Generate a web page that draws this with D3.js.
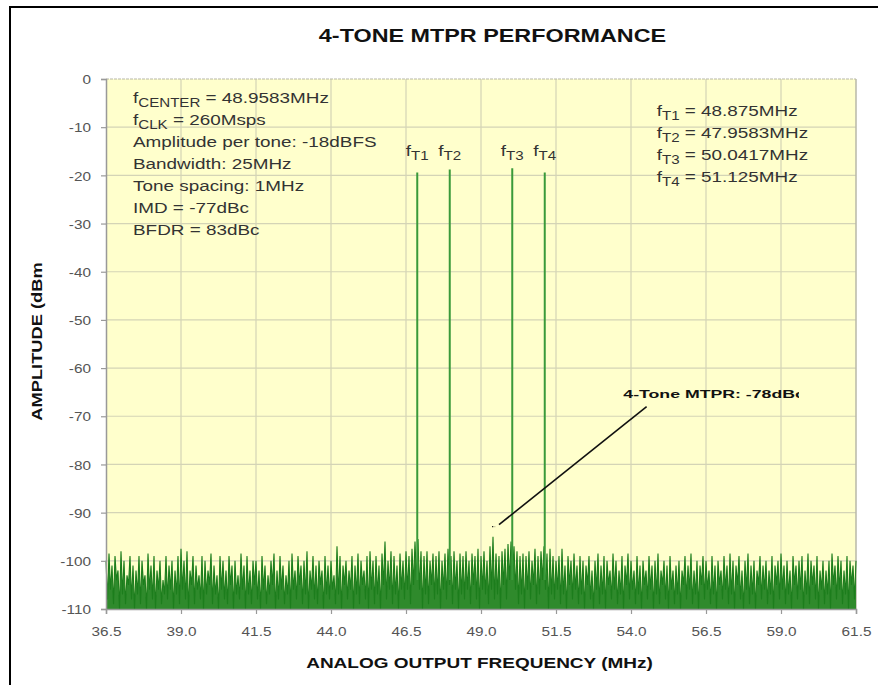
<!DOCTYPE html>
<html><head><meta charset="utf-8">
<script src="https://cdn.jsdelivr.net/npm/d3@7"></script>
<style>html,body{margin:0;padding:0;background:#fff;} svg{display:block;font-family:"Liberation Sans",Arial,Helvetica,sans-serif;}</style>
</head><body><svg id="c" width="878" height="685"></svg>
<script>
// ---------------- data ----------------
const xTicks = [36.5, 39.0, 41.5, 44.0, 46.5, 49.0, 51.5, 54.0, 56.5, 59.0, 61.5];
const yTicks = [0, -10, -20, -30, -40, -50, -60, -70, -80, -90, -100, -110];
const toneNames = ["T1", "T2", "T3", "T4"];
const toneFreqs = [46.875, 47.9583, 50.0417, 51.125];
const tonePeaks = [-19.4, -18.8, -18.5, -19.4];
const toneListValues = ["48.875MHz", "47.9583MHz", "50.0417MHz", "51.125MHz"];
const infoLines = [
  ["f", "CENTER", " = 48.9583MHz"],
  ["f", "CLK", " = 260Msps"],
  ["Amplitude per tone: -18dBFS", "", ""],
  ["Bandwidth: 25MHz", "", ""],
  ["Tone spacing: 1MHz", "", ""],
  ["IMD = -77dBc", "", ""],
  ["BFDR = 83dBc", "", ""]
];
const mtprLabel = "4-Tone MTPR: -78dBc";
const mtprArrow = [[54.52, -68.0], [49.6, -92.5]];
const mtprDots = [[49.37, -92.9], [49.47, -92.9]];
const noiseStart = 36.5, noiseStep = 0.05;
const noise = [
-100,-108,-98.5,-106,-101,-109,-99,-104,-102,-110,-98,-107,-100,-109,-103,-105,-99,-108,-101,-110,
-102,-107,-99,-109,-100,-105,-103,-110,-98.5,-106,-101,-108,-99,-110,-102,-106,-100,-109,-104,-107,
-99,-108,-101,-106,-100,-110,-102,-107,-99,-109,-97.5,-106,-100,-108,-98,-110,-102,-105,-99,-109,
-101,-106,-103,-108,-99,-110,-100,-107,-102,-105,-98.5,-109,-101,-107,-103,-110,-99,-106,-100,-108,
-102,-109,-99,-105,-101,-110,-100,-107,-103,-108,-98.5,-106,-101,-110,-99,-107,-102,-109,-100,-105,
-100,-108,-102,-110,-99,-106,-101,-109,-103,-107,-100,-105,-98.5,-110,-102,-108,-99,-106,-101,-109,
-103,-107,-100,-110,-98.5,-106,-102,-108,-99,-105,-101,-109,-100,-107,-98,-110,-102,-106,-99,-108,
-101,-109,-100,-105,-102,-110,-99,-107,-101,-108,-100,-106,-103,-109,-97,-107,-99,-110,-101,-105,
-100,-108,-102,-106,-99,-110,-101,-107,-98.5,-109,-100,-105,-102,-108,-99,-110,-98,-106,-100,-109,
-99,-107,-101,-110,-98.5,-105,-96,-108,-100,-106,-98,-109,-99,-107,-101,-110,-98.5,-106,-100,-108,
-98,-106,-99,-109,-97.5,-105,-96,-104,-95.5,-106,-98,-110,-99,-107,-98,-109,-100,-105,-98.5,-108,
-99,-107,-98,-110,-100,-106,-98.5,-108,-97.5,-105,-99,-109,-98,-106,-100,-110,-98.5,-107,-99,-108,
-98,-106,-100,-109,-98.5,-105,-99,-108,-97.5,-110,-99,-106,-98,-107,-100,-109,-97,-106,-95,-108,
-98.5,-107,-99,-110,-98,-105,-97.5,-108,-96.5,-104,-96,-103,-97,-106,-98,-109,-99,-107,-98.5,-110,
-99,-106,-98,-108,-100,-105,-97.5,-109,-99,-107,-98,-104,-97,-106,-98.5,-110,-97.5,-107,-99,-108,
-100,-106,-99,-109,-97.5,-107,-101,-110,-99,-105,-100,-108,-98.5,-106,-101,-109,-99,-107,-100,-110,
-101,-105,-99,-108,-102,-110,-100,-106,-98.5,-109,-101,-107,-99,-110,-100,-105,-102,-108,-98.5,-106,
-100,-109,-102,-107,-99,-110,-101,-105,-98.5,-108,-100,-106,-102,-109,-99,-107,-101,-110,-100,-105,
-102,-108,-99,-106,-101,-110,-100,-107,-98.5,-109,-102,-105,-100,-108,-101,-110,-99,-106,-102,-109,
-101,-107,-100,-110,-102,-105,-99,-108,-101,-106,-98.5,-109,-102,-107,-100,-110,-101,-105,-99,-108,
-100,-106,-102,-109,-99,-107,-101,-110,-100,-105,-102,-108,-99,-106,-101,-109,-98.5,-107,-100,-110,
-101,-105,-99,-108,-102,-110,-100,-106,-98.5,-109,-101,-107,-100,-110,-102,-105,-99,-108,-101,-106,
-100,-109,-102,-107,-99,-110,-101,-105,-100,-108,-98.5,-106,-101,-109,-100,-107,-102,-110,-99,-105,
-101,-108,-100,-106,-99,-110,-102,-107,-98.5,-109,-100,-105,-101,-108,-99,-110,-102,-106,-100,-109,
-102,-107,-100,-110,-98.5,-105,-101,-108,-99,-106,-100,-109,-102,-107,-99,-110,-100,-105,-101,-108,
-100
];

// ---------------- layout ----------------
const svg = d3.select("#c");
const x = d3.scaleLinear().domain([36.5, 61.5]).range([106, 856]);
const y = d3.scaleLinear().domain([-110, 0]).range([609, 79]);

function label(parent, tx, ty, opts) {
  const g = parent.append("g")
    .attr("transform", `translate(${tx},${ty})` + (opts.rotate ? ` rotate(${opts.rotate})` : "") + ` scale(${opts.k || 1},1)`);
  return g.append("text")
    .attr("x", 0).attr("y", 0)
    .attr("font-size", opts.size)
    .attr("font-weight", opts.weight || "normal")
    .attr("text-anchor", opts.anchor || "start")
    .attr("fill", opts.fill || "#222");
}
function subText(t, main, sub, rest, subSize) {
  t.append("tspan").text(main);
  if (sub) {
    t.append("tspan").attr("font-size", subSize).attr("dy", 4).text(sub);
    if (rest) t.append("tspan").attr("dy", -4).text(rest);
  } else if (rest) {
    t.append("tspan").text(rest);
  }
}

// outer frame
svg.append("path").attr("d", "M10,685V7H878").attr("fill", "none").attr("stroke", "#000").attr("stroke-width", 2);

// plot background
svg.append("rect").attr("x", x(36.5)).attr("y", y(0))
  .attr("width", x(61.5) - x(36.5)).attr("height", y(-110) - y(0)).attr("fill", "#ffffcc");

// grid
const grid = svg.append("g").attr("stroke", "#d4d4b6").attr("stroke-width", 1.2);
grid.selectAll("line.v").data(xTicks.slice(1, -1)).join("line")
  .attr("x1", d => x(d)).attr("x2", d => x(d)).attr("y1", y(0)).attr("y2", y(-110));
grid.selectAll("line.h").data(yTicks.slice(1, -1)).join("line")
  .attr("x1", x(36.5)).attr("x2", x(61.5)).attr("y1", d => y(d)).attr("y2", d => y(d));
svg.append("line").attr("x1", x(36.5)).attr("x2", x(61.5)).attr("y1", y(0)).attr("y2", y(0))
  .attr("stroke", "#b8b8a8").attr("stroke-width", 1.2).attr("stroke-dasharray", "3,1");
svg.append("line").attr("x1", x(61.5)).attr("x2", x(61.5)).attr("y1", y(0)).attr("y2", y(-110))
  .attr("stroke", "#b8b8a8").attr("stroke-width", 1.5);

// noise floor: filled spectrum + trace
const noisePts = noise.map((v, i) => [noiseStart + i * noiseStep, v]);
svg.append("path").datum(noisePts)
  .attr("fill", "#2f8a2c").attr("stroke", "none")
  .attr("d", d3.area().x(d => x(d[0])).y0(y(-110)).y1(d => y(d[1])));
svg.append("path").datum(noisePts)
  .attr("fill", "none").attr("stroke", "#1c7d1c").attr("stroke-width", 1.1)
  .attr("d", d3.line().x(d => x(d[0])).y(d => y(d[1])));

// tones
svg.append("g").selectAll("line").data(toneFreqs).join("line")
  .attr("x1", d => x(d)).attr("x2", d => x(d))
  .attr("y1", y(-104)).attr("y2", (d, i) => y(tonePeaks[i]))
  .attr("stroke", "#3a9a3a").attr("stroke-width", 2);

// axes
const yAxis = svg.append("g").attr("transform", `translate(${x(36.5)},0)`)
  .call(d3.axisLeft(y).tickValues(yTicks).tickSize(5).tickFormat(d => String(d)));
const xAxis = svg.append("g").attr("transform", `translate(0,${y(-110)})`)
  .call(d3.axisBottom(x).tickValues(xTicks).tickSize(5).tickFormat(d => d.toFixed(1)));
[yAxis, xAxis].forEach(a => {
  a.select(".domain").attr("stroke", "#999").attr("stroke-width", 1.5);
  a.selectAll(".tick line").attr("stroke", "#999").attr("stroke-width", 1.2);
  a.selectAll(".tick text").attr("font-size", 13).attr("fill", "#555")
    .attr("font-family", "Liberation Sans, Arial, sans-serif");
});
yAxis.selectAll(".tick text").attr("x", 0).attr("dy", "0.36em").attr("text-anchor", "end")
  .attr("transform", "translate(-15,0) scale(1.18,1)");
xAxis.selectAll(".tick text").attr("y", 0).attr("dy", 0).attr("text-anchor", "middle")
  .attr("transform", "translate(0,27) scale(1.18,1)");

// titles
label(svg, 492.5, 41.5, {size: 19, weight: "bold", anchor: "middle", k: 1.23, fill: "#111"})
  .text("4-TONE MTPR PERFORMANCE");
label(svg, 479.5, 668, {size: 15.5, weight: "bold", anchor: "middle", k: 1.225, fill: "#111"})
  .text("ANALOG OUTPUT FREQUENCY (MHz)");
label(svg, 41.5, 341.5, {size: 15, weight: "bold", anchor: "middle", k: 1.22, rotate: -90, fill: "#111"})
  .text("AMPLITUDE (dBm");

// left info block
infoLines.forEach((ln, i) => {
  const t = label(svg, 133, 103 + 22 * i, {size: 15, k: 1.26, fill: "#333"});
  subText(t, ln[0], ln[1], ln[2], 12);
});
// right tone list
toneNames.forEach((nm, i) => {
  const t = label(svg, 656.7, 116 + 22 * i, {size: 15, k: 1.26, fill: "#333"});
  subText(t, "f", nm, " = " + toneListValues[i], 12);
});
// tone labels above peaks
toneNames.forEach((nm, i) => {
  const t = label(svg, x(toneFreqs[i]), 156, {size: 15, k: 1.26, anchor: "middle", fill: "#333"});
  subText(t, "f", nm, "", 12);
});

// MTPR annotation
svg.append("clipPath").attr("id", "mclip").append("rect").attr("x", 600).attr("y", 370).attr("width", 199).attr("height", 40);
const mg = svg.append("g").attr("clip-path", "url(#mclip)");
label(mg, 623.3, 398.3, {size: 11.5, weight: "bold", k: 1.54, fill: "#111"}).text(mtprLabel);
svg.append("path").datum(mtprArrow)
  .attr("fill", "none").attr("stroke", "#111").attr("stroke-width", 1.6)
  .attr("d", d3.line().x(d => x(d[0])).y(d => y(d[1])));
svg.append("path").datum(mtprDots)
  .attr("fill", "none").attr("stroke", "#111").attr("stroke-width", 1.4).attr("stroke-dasharray", "1.2,1.5")
  .attr("d", d3.line().x(d => x(d[0])).y(d => y(d[1])));
</script>
</body></html>
